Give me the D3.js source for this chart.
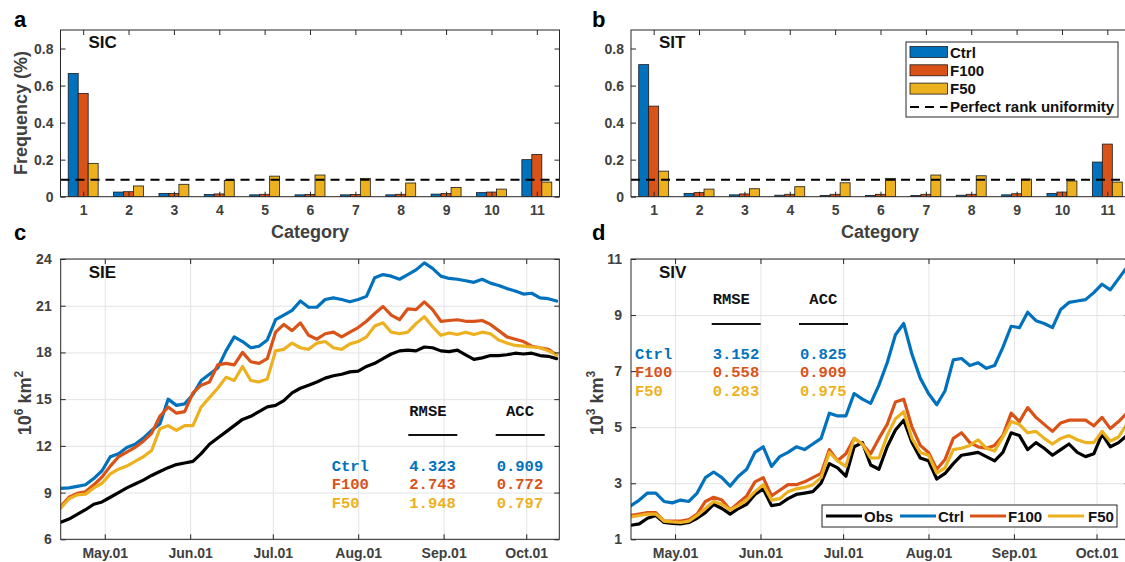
<!DOCTYPE html>
<html><head><meta charset="utf-8">
<script src="https://cdn.jsdelivr.net/npm/d3@7"></script>
<style>
body{margin:0;background:#fff}
svg{display:block;font-family:"Liberation Sans",Arial,Helvetica,sans-serif}
</style>
</head><body>
<svg id="chart" width="1125" height="562"></svg>
<script>
// ---------------- DATA ----------------
const categories = [1,2,3,4,5,6,7,8,9,10,11];
const seriesNames = ["Ctrl","F100","F50"];
const sicCtrl = [0.665,0.025,0.017,0.012,0.010,0.010,0.010,0.010,0.014,0.022,0.200];
const sicF100 = [0.557,0.027,0.018,0.015,0.013,0.012,0.012,0.013,0.017,0.025,0.228];
const sicF50  = [0.180,0.058,0.067,0.088,0.111,0.117,0.099,0.074,0.050,0.041,0.079];
const sitCtrl = [0.713,0.018,0.010,0.008,0.007,0.007,0.007,0.008,0.010,0.018,0.187];
const sitF100 = [0.489,0.022,0.015,0.013,0.013,0.013,0.013,0.013,0.016,0.025,0.284];
const sitF50  = [0.138,0.041,0.043,0.054,0.075,0.099,0.117,0.113,0.095,0.085,0.079];
const uniformLevel = 0.0909;
const barTicks = [0,0.2,0.4,0.6,0.8];

const dates = ["04-15","04-18","04-21","04-24","04-27","04-30",
 "05-03","05-06","05-09","05-12","05-15","05-18","05-21","05-24","05-27","05-30",
 "06-02","06-05","06-08","06-11","06-14","06-17","06-20","06-23","06-26","06-29",
 "07-02","07-05","07-08","07-11","07-14","07-17","07-20","07-23","07-26","07-29",
 "08-01","08-04","08-07","08-10","08-13","08-16","08-19","08-22","08-25","08-28","08-31",
 "09-03","09-06","09-09","09-12","09-15","09-18","09-21","09-24","09-27","09-30",
 "10-03","10-06","10-09","10-12"];
const dateStart = "04-15", dateEnd = "10-13";
const monthTicks = ["05-01","06-01","07-01","08-01","09-01","10-01"];
const monthLabels = ["May.01","Jun.01","Jul.01","Aug.01","Sep.01","Oct.01"];

const sieObs  = [7.1,7.3,7.6,7.9,8.25,8.4,8.7,9.0,9.3,9.55,9.8,10.1,10.35,10.6,10.8,10.9,11.0,11.5,12.1,12.5,12.9,13.3,13.7,13.9,14.2,14.5,14.6,14.9,15.4,15.7,15.9,16.1,16.35,16.5,16.6,16.75,16.8,17.1,17.3,17.6,17.9,18.1,18.15,18.1,18.35,18.3,18.1,18.05,18.15,17.85,17.55,17.65,17.8,17.8,17.85,17.95,17.9,17.95,17.8,17.75,17.6];
const sieCtrl = [9.27,9.3,9.4,9.5,9.9,10.4,11.3,11.5,11.9,12.1,12.5,13.0,13.4,15.0,14.6,14.7,15.3,16.2,16.6,17.0,18.1,19.0,18.7,18.3,18.4,18.8,20.1,20.4,20.7,21.3,20.9,20.9,21.4,21.5,21.4,21.25,21.4,21.6,22.8,23.0,22.9,22.7,23.0,23.3,23.75,23.4,22.9,22.75,22.7,22.6,22.5,22.7,22.45,22.3,22.1,21.95,21.75,21.8,21.5,21.45,21.3];
const sieF100 = [8.1,8.7,8.95,9.05,9.5,10.0,10.7,11.3,11.6,11.9,12.3,12.8,13.9,14.5,14.1,14.2,15.4,15.9,16.1,17.2,17.3,17.2,18.0,17.4,17.3,17.6,19.3,19.8,19.4,19.9,19.1,18.85,19.2,19.3,19.0,19.3,19.6,20.0,20.5,20.95,20.4,20.1,20.8,20.75,21.25,20.75,20.0,20.05,20.1,20.0,20.0,20.05,19.8,19.4,19.0,18.85,18.7,18.4,18.3,18.2,17.85];
const sieF50  = [8.0,8.6,8.85,8.9,9.3,9.6,10.2,10.5,10.7,11.0,11.3,11.7,13.1,13.3,13.0,13.3,13.3,14.5,15.1,15.7,16.4,16.2,17.1,16.2,16.1,16.3,18.1,18.2,18.6,18.3,18.2,18.6,18.7,18.3,18.2,18.55,18.7,19.0,19.7,19.9,19.3,19.2,19.3,19.85,20.3,19.65,19.1,19.25,19.15,19.3,19.15,19.3,19.2,18.8,18.6,18.45,18.4,18.35,18.3,18.1,17.85];

const sivObs  = [1.5,1.55,1.75,1.85,1.6,1.57,1.55,1.6,1.75,1.95,2.25,2.1,1.9,2.1,2.25,2.6,2.8,2.2,2.25,2.45,2.6,2.65,2.7,3.0,3.7,3.55,3.25,4.3,4.45,3.65,3.5,4.3,4.9,5.25,4.45,3.9,3.8,3.15,3.35,3.7,4.0,4.05,4.1,3.95,3.8,4.1,4.8,4.7,4.2,4.45,4.25,4.0,4.2,4.4,4.1,3.95,4.05,4.75,4.3,4.45,4.7];
const sivCtrl = [2.2,2.4,2.65,2.65,2.35,2.3,2.4,2.35,2.65,3.2,3.4,3.2,2.9,3.25,3.5,4.1,4.3,3.6,3.95,4.1,4.3,4.2,4.4,4.6,5.5,5.4,5.4,6.2,6.0,5.85,6.5,7.3,8.3,8.7,7.6,6.75,6.2,5.8,6.3,7.4,7.45,7.2,7.3,7.1,7.2,7.85,8.6,8.55,9.1,8.8,8.7,8.55,9.2,9.45,9.5,9.55,9.8,10.1,9.9,10.3,10.7];
const sivF100 = [1.85,1.9,1.95,1.95,1.65,1.65,1.65,1.7,1.9,2.35,2.5,2.4,2.05,2.3,2.55,3.05,3.2,2.55,2.75,2.95,2.95,3.05,3.2,3.35,4.2,3.8,4.05,4.6,4.4,4.05,4.6,5.1,5.9,6.0,5.0,4.35,4.1,3.5,3.85,4.6,4.8,4.45,4.3,4.25,4.35,4.7,5.5,5.2,5.7,5.35,5.1,4.85,5.15,5.25,5.25,5.25,5.05,5.35,4.95,5.2,5.5];
const sivF50  = [1.8,1.85,1.9,1.9,1.65,1.62,1.6,1.65,1.85,2.1,2.35,2.25,2.05,2.2,2.4,2.7,2.95,2.4,2.45,2.7,2.8,2.85,2.95,3.2,4.1,3.8,3.6,4.6,4.4,3.9,3.9,4.7,5.3,5.55,4.6,4.1,4.0,3.36,3.55,4.2,4.25,4.35,4.55,4.25,4.15,4.65,5.2,5.1,4.8,4.85,4.6,4.4,4.6,4.7,4.55,4.45,4.45,4.85,4.5,4.65,5.1];

const sieTicks = [6,9,12,15,18,21,24];
const sivTicks = [1,3,5,7,9,11];
const sieRmse = ["4.323","2.743","1.948"], sieAcc = ["0.909","0.772","0.797"];
const sivRmse = ["3.152","0.558","0.283"], sivAcc = ["0.825","0.909","0.975"];

// ---------------- STYLE ----------------
const colors = {Obs:"#000000", Ctrl:"#0072BD", F100:"#D95319", F50:"#EDB120"};
const axisColor = "#262626", labelColor = "#404040";
const svg = d3.select("#chart");
const parse = d3.timeParse("%m-%d");
const MONO = "'Liberation Mono','Courier New',monospace";

function frame(g, b){
  g.append("rect").attr("x",b.x0).attr("y",b.y0).attr("width",b.x1-b.x0).attr("height",b.y1-b.y0)
   .attr("fill","none").attr("stroke",axisColor).attr("stroke-width",1);
}
function styleAxis(sel, labelSize){
  sel.select(".domain").remove();
  sel.selectAll(".tick line").attr("stroke",axisColor).attr("stroke-width",1);
  sel.selectAll(".tick text").attr("fill",labelColor).attr("font-size",labelSize||14)
     .attr("font-weight","bold").style("font-family","'Liberation Sans',Arial,sans-serif");
}
function clip(id,b){
  svg.append("defs").append("clipPath").attr("id",id).append("rect")
    .attr("x",b.x0).attr("y",b.y0).attr("width",b.x1-b.x0).attr("height",b.y1-b.y0);
}

// ---------------- BAR PANELS ----------------
function barPanel(b, vals, title, id, legend, catX){
  const g = svg.append("g");
  const x = d3.scaleLinear().domain([0.5,11.5]).range([b.x0,b.x1]);
  const y = d3.scaleLinear().domain([0,0.9]).range([b.y1,b.y0]);
  clip(id,b);
  const bw = 0.22;
  const pg = g.append("g").attr("clip-path",`url(#${id})`);
  seriesNames.forEach((s,k)=>{
    pg.selectAll(null).data(vals[k]).enter().append("rect")
      .attr("x",(d,i)=>x(categories[i]+(k-1)*bw-bw/2))
      .attr("width",x(bw)-x(0))
      .attr("y",d=>y(d)).attr("height",d=>y(0)-y(d))
      .attr("fill",colors[s]).attr("stroke","#1a1a1a").attr("stroke-width",0.8);
  });
  pg.append("line").attr("x1",x(0.5)).attr("x2",x(11.5)).attr("y1",y(uniformLevel)).attr("y2",y(uniformLevel))
    .attr("stroke","#000").attr("stroke-width",2).attr("stroke-dasharray","9,6");
  const ax = g.append("g").attr("transform",`translate(0,${b.y1})`)
    .call(d3.axisBottom(x).tickValues(categories).tickSizeInner(-5).tickSizeOuter(0).tickPadding(8));
  styleAxis(ax);
  const at = g.append("g").attr("transform",`translate(0,${b.y0})`)
    .call(d3.axisTop(x).tickValues(categories).tickSizeInner(-5).tickSizeOuter(0).tickFormat(""));
  styleAxis(at);
  const al = g.append("g").attr("transform",`translate(${b.x0},0)`)
    .call(d3.axisLeft(y).tickValues(barTicks).tickSizeInner(-5).tickSizeOuter(0).tickPadding(7)
      .tickFormat(d=>d===0?"0":d3.format(".1f")(d)));
  styleAxis(al);
  const ar = g.append("g").attr("transform",`translate(${b.x1},0)`)
    .call(d3.axisRight(y).tickValues(barTicks).tickSizeInner(-5).tickSizeOuter(0).tickFormat(""));
  styleAxis(ar);
  frame(g,b);
  g.append("text").attr("x",b.x0+28).attr("y",b.y0+18).attr("font-size",17).attr("font-weight","bold")
    .attr("fill","#111").text(title);
  g.append("text").attr("x",catX).attr("y",238)
    .attr("text-anchor","middle").attr("font-size",18).attr("font-weight","bold").attr("fill",labelColor).text("Category");
  if(legend){
    const lg = g.append("g");
    lg.append("rect").attr("x",906).attr("y",42).attr("width",212).attr("height",75)
      .attr("fill","#fff").attr("stroke",axisColor).attr("stroke-width",1);
    const rows=[52,70.3,88.6,106.9];
    seriesNames.forEach((s,k)=>{
      lg.append("rect").attr("x",910).attr("y",rows[k]-5.5).attr("width",37.5).attr("height",11)
        .attr("fill",colors[s]).attr("stroke","#1a1a1a").attr("stroke-width",0.8);
      lg.append("text").attr("x",950).attr("y",rows[k]+5.5).attr("font-size",15).attr("font-weight","bold")
        .attr("fill","#111").text(s);
    });
    lg.append("line").attr("x1",910).attr("x2",947.5).attr("y1",rows[3]).attr("y2",rows[3])
      .attr("stroke","#000").attr("stroke-width",2).attr("stroke-dasharray","9,6");
    lg.append("text").attr("x",950).attr("y",rows[3]+5.5).attr("font-size",15).attr("font-weight","bold")
      .attr("fill","#111").text("Perfect rank uniformity");
  }
}
const boxA = {x0:60.5,x1:559.5,y0:30,y1:196.7};
const boxB = {x0:631,x1:1130,y0:30,y1:196.7};
barPanel(boxA,[sicCtrl,sicF100,sicF50],"SIC","clipA",false,310);
barPanel(boxB,[sitCtrl,sitF100,sitF50],"SIT","clipB",true,880);

// ---------------- LINE PANELS ----------------
function linePanel(b, yDomain, yTicks, series, title, id, stats, sp){
  const g = svg.append("g");
  const x = d3.scaleTime().domain([parse(dateStart),parse(dateEnd)]).range([b.x0,b.x1]);
  const y = d3.scaleLinear().domain(yDomain).range([b.y1,b.y0]);
  const mt = monthTicks.map(parse);
  clip(id,b);
  const gx = g.append("g").attr("transform",`translate(0,${b.y1})`)
    .call(d3.axisBottom(x).tickValues(mt).tickSize(-(b.y1-b.y0)).tickFormat(""));
  gx.select(".domain").remove(); gx.selectAll("line").attr("stroke","#e3e3e3").attr("stroke-width",1);
  const gy = g.append("g").attr("transform",`translate(${b.x0},0)`)
    .call(d3.axisLeft(y).tickValues(yTicks).tickSize(-(b.x1-b.x0)).tickFormat(""));
  gy.select(".domain").remove(); gy.selectAll("line").attr("stroke","#e3e3e3").attr("stroke-width",1);
  const pg = g.append("g").attr("clip-path",`url(#${id})`);
  const line = d3.line().x((d,i)=>x(parse(dates[i]))).y(d=>y(d));
  series.forEach(([name,vals])=>{
    pg.append("path").attr("d",line(vals)).attr("fill","none").attr("stroke",colors[name])
      .attr("stroke-width",3.2).attr("stroke-linejoin","round").attr("stroke-linecap","round");
  });
  const ax = g.append("g").attr("transform",`translate(0,${b.y1})`)
    .call(d3.axisBottom(x).tickValues(mt).tickSizeInner(-5).tickSizeOuter(0).tickPadding(9)
      .tickFormat((d,i)=>monthLabels[i]));
  styleAxis(ax);
  const at = g.append("g").attr("transform",`translate(0,${b.y0})`)
    .call(d3.axisTop(x).tickValues(mt).tickSizeInner(-5).tickSizeOuter(0).tickFormat(""));
  styleAxis(at);
  const al = g.append("g").attr("transform",`translate(${b.x0},0)`)
    .call(d3.axisLeft(y).tickValues(yTicks).tickSizeInner(-5).tickSizeOuter(0).tickPadding(9));
  styleAxis(al);
  const ar = g.append("g").attr("transform",`translate(${b.x1},0)`)
    .call(d3.axisRight(y).tickValues(yTicks).tickSizeInner(-5).tickSizeOuter(0).tickFormat(""));
  styleAxis(ar);
  frame(g,b);
  g.append("text").attr("x",b.x0+28).attr("y",b.y0+18.5).attr("font-size",17).attr("font-weight","bold")
    .attr("fill","#111").text(title);
  const t = g.append("g");
  const mt2 = (sel)=>sel.style("font-family",MONO).attr("font-weight","bold").attr("font-size",15.5).attr("dominant-baseline","central");
  mt2(t.append("text").attr("x",sp.vx).attr("y",sp.hy).attr("fill","#111").text("RMSE"));
  mt2(t.append("text").attr("x",sp.ax+23.3).attr("y",sp.hy).attr("text-anchor","middle").attr("fill","#111").text("ACC"));
  [[sp.vx-1,sp.vx+48],[sp.ax-1,sp.ax+48]].forEach(([a,c])=>{
    t.append("line").attr("x1",a).attr("x2",c).attr("y1",sp.uy).attr("y2",sp.uy).attr("stroke","#111").attr("stroke-width",2);
  });
  seriesNames.forEach((s,k)=>{
    const yy = sp.ry[k];
    mt2(t.append("text").attr("x",sp.lx).attr("y",yy).attr("fill",colors[s]).text(s));
    mt2(t.append("text").attr("x",sp.vx).attr("y",yy).attr("fill",colors[s]).text(stats[0][k]));
    mt2(t.append("text").attr("x",sp.ax).attr("y",yy).attr("fill",colors[s]).text(stats[1][k]));
  });
  return g;
}
const boxC = {x0:60.7,x1:559.3,y0:259,y1:539.3};
const boxD = {x0:631,x1:1129.6,y0:259,y1:539.3};
linePanel(boxC,[6,24],sieTicks,[["Obs",sieObs],["Ctrl",sieCtrl],["F100",sieF100],["F50",sieF50]],"SIE","clipC",
  [sieRmse,sieAcc],{lx:331.7,vx:409.3,ax:496.7,hy:411.7,uy:435,ry:[466.7,485.2,503.7]});
linePanel(boxD,[1,11],sivTicks,[["Obs",sivObs],["Ctrl",sivCtrl],["F100",sivF100],["F50",sivF50]],"SIV","clipD",
  [sivRmse,sivAcc],{lx:635,vx:712.7,ax:800,hy:300,uy:324,ry:[355,373.3,391.7]});

// legend for panel d
const ld = svg.append("g");
ld.append("rect").attr("x",822).attr("y",505).attr("width",295).attr("height",22)
  .attr("fill","#fff").attr("stroke",axisColor).attr("stroke-width",1);
const legItems = [["Obs",826,864],["Ctrl",900,938],["F100",970,1008],["F50",1048,1088]];
legItems.forEach(([n,lx,tx])=>{
  ld.append("line").attr("x1",lx).attr("x2",lx+36).attr("y1",516).attr("y2",516).attr("stroke",colors[n]).attr("stroke-width",3);
  ld.append("text").attr("x",tx).attr("y",521.5).attr("font-size",15).attr("font-weight","bold").attr("fill","#111").text(n);
});

// y labels
svg.append("text").attr("transform","translate(27,113) rotate(-90)").attr("text-anchor","middle")
  .attr("font-size",18).attr("font-weight","bold").attr("fill",labelColor).text("Frequency (%)");
function unitLabel(cx,cy,p1,p2){
  const t = svg.append("text").attr("transform",`translate(${cx},${cy}) rotate(-90)`).attr("text-anchor","middle")
    .attr("font-size",18).attr("font-weight","bold").attr("fill",labelColor);
  t.append("tspan").text("10");
  t.append("tspan").attr("font-size",12).attr("dy",-8).text(p1);
  t.append("tspan").attr("dy",8).text(" km");
  t.append("tspan").attr("font-size",12).attr("dy",-8).text(p2);
}
unitLabel(31,403,"6","2");
unitLabel(603,403,"3","3");

// panel letters
[["a",14,27],["b",592,27],["c",14,240],["d",592,240]].forEach(([l,x,y])=>{
  svg.append("text").attr("x",x).attr("y",y).attr("font-size",22).attr("font-weight","bold").attr("fill","#000").text(l);
});
</script>
</body></html>
